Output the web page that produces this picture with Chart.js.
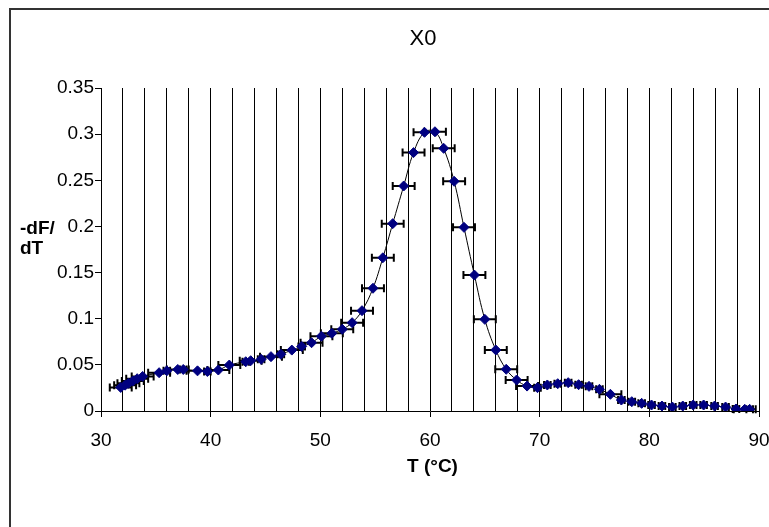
<!DOCTYPE html>
<html>
<head>
<meta charset="utf-8">
<script src="https://cdn.jsdelivr.net/npm/chart.js@4/dist/chart.umd.min.js"></script>
<style>
    html, body { margin: 0; background: #fff; overflow: hidden; width: 769px; height: 527px; }
    #frame { position: absolute; left: 9px; top: 8px; width: 3000px; height: 3000px; border-top: 2px solid #333; border-left: 2px solid #333; box-sizing: border-box; }
    #holder { position: absolute; left: 9px; top: 8px; width: 828px; height: 560px; }
</style>
</head>
<body>
<div id="frame"></div>
<div id="holder"><canvas id="meltCanvas"></canvas></div>
<script>
// melt curve, temperature in °C
const temps = [31.8, 32.2, 32.5, 32.9, 33.3, 33.8, 35.3, 36.0, 37.0, 37.5, 38.8, 39.7, 40.7, 41.7,
    43.2, 43.65, 44.6, 45.5, 46.4, 47.4, 48.3, 49.2, 50.1, 51.05, 52.0, 52.9, 53.8, 54.8, 55.7,
    56.6, 57.6, 58.5, 59.5, 60.45, 61.25, 62.2, 63.1, 64.05, 65.0, 66.0, 66.95, 67.9, 68.85, 69.8,
    70.7, 71.65, 72.6, 73.55, 74.5, 75.45, 76.45, 77.45, 78.4, 79.3, 80.2, 81.15, 82.1, 83.05,
    84.0, 84.95, 85.95, 86.95, 87.9, 88.7, 89.15];
const dfdt = [0.0255, 0.028, 0.030, 0.0325, 0.035, 0.0375, 0.0415, 0.0435, 0.045, 0.045, 0.0435,
    0.0428, 0.0444, 0.0498, 0.0534, 0.0545, 0.056, 0.0589, 0.0615, 0.066, 0.070, 0.074, 0.081,
    0.0842, 0.0885, 0.0957, 0.1087, 0.133, 0.166, 0.203, 0.2438, 0.280, 0.302, 0.3026, 0.2846,
    0.2489, 0.199, 0.1473, 0.0993, 0.0661, 0.0452, 0.0336, 0.027, 0.0253, 0.0282, 0.0296, 0.0307,
    0.0285, 0.0267, 0.0235, 0.0181, 0.0119, 0.0101, 0.0083, 0.0065, 0.0054, 0.0043, 0.0054,
    0.0065, 0.0065, 0.0054, 0.0043, 0.0022, 0.0018, 0.0018];
// horizontal error (± °C)
const tErr = [1, 1, 1, 1, 1, 1, 1, 0.3, 1, 0.3, 1, 0.3, 1, 1,
    0.3, 1, 0.3, 1, 0.3, 1, 0.3, 1, 1, 1, 1, 1, 1, 1, 1,
    1, 1, 1, 1, 1, 1, 1, 1, 1, 1, 1, 1, 1, 1, 0.3,
    0.3, 0.3, 0.3, 0.3, 0.3, 0.3, 1, 0.3, 0.3, 0.3, 0.3, 0.3, 0.3, 0.3,
    0.3, 0.3, 0.3, 0.3, 0.3, 1, 0.3];
const xTicks = [30, 40, 50, 60, 70, 80, 90];
const yTicks = [0, 0.05, 0.1, 0.15, 0.2, 0.25, 0.3, 0.35];

const fontFamily = '"Liberation Sans", Arial, sans-serif';
const canvas = document.getElementById('meltCanvas');

const points = temps.map((t, i) => ({x: t, y: dfdt[i]}));

const errorBars = {
    id: 'errorBars',
    beforeDatasetsDraw(chart) {
        const {ctx, scales: {x, y}} = chart;
        ctx.save();
        ctx.strokeStyle = '#000';
        ctx.lineWidth = 2;
        points.forEach((p, i) => {
            const py = y.getPixelForValue(p.y);
            const x0 = x.getPixelForValue(p.x - tErr[i]);
            const x1 = x.getPixelForValue(p.x + tErr[i]);
            ctx.beginPath();
            ctx.moveTo(x0, py);
            ctx.lineTo(x1, py);
            ctx.moveTo(x0, py - 4);
            ctx.lineTo(x0, py + 4);
            ctx.moveTo(x1, py - 4);
            ctx.lineTo(x1, py + 4);
            ctx.stroke();
        });
        ctx.restore();
    }
};

const labelsPlugin = {
    id: 'labelsPlugin',
    afterDraw(chart) {
        const ctx = chart.ctx;
        ctx.save();
        ctx.fillStyle = '#000';
        ctx.textBaseline = 'middle';
        ctx.textAlign = 'center';
        ctx.font = '22px ' + fontFamily;
        ctx.fillText('X0', 414, 31);
        ctx.font = 'bold 19px ' + fontFamily;
        ctx.fillText('T (°C)', 423.5, 459);
        ctx.textAlign = 'left';
        ctx.fillText('-dF/', 11, 221);
        ctx.fillText('dT', 11, 241);
        ctx.restore();
    }
};

const chartDraw = () => {
    const data = {
        datasets: [
            {
                data: points,
                borderColor: '#000',
                borderWidth: 1,
                tension: 0.4,
                pointStyle: 'rectRot',
                pointRadius: 5,
                pointBackgroundColor: '#000080',
                pointBorderColor: '#000080',
                pointBorderWidth: 1
            }
        ]
    };

    const config = {
        type: 'scatter',
        data,
        options: {
            responsive: true,
            maintainAspectRatio: false,
            animation: false,
            devicePixelRatio: 1,
            showLine: true,
            layout: { padding: { top: 80, right: 78, bottom: 97, left: 0 } },
            plugins: {
                legend: { display: false },
                tooltip: { enabled: false }
            },
            scales: {
                x: {
                    type: 'linear',
                    min: 30,
                    max: 90,
                    afterFit: (scale) => { scale.height = 60; },
                    ticks: {
                        stepSize: 2,
                        autoSkip: false,
                        maxRotation: 0,
                        padding: 12,
                        color: '#000',
                        font: { family: fontFamily, size: 19 },
                        callback: (v) => xTicks.includes(v) ? String(v) : ''
                    },
                    grid: {
                        color: '#000',
                        lineWidth: 1,
                        tickLength: 6,
                        tickColor: (c) => xTicks.includes(c.tick && c.tick.value) ? '#000' : 'rgba(0,0,0,0)'
                    },
                    border: { color: '#000', width: 1 }
                },
                y: {
                    min: 0,
                    max: 0.35,
                    afterFit: (scale) => { scale.width = 92; },
                    afterBuildTicks: (scale) => { scale.ticks = yTicks.map((v) => ({value: v})); },
                    ticks: {
                        padding: 1,
                        color: '#000',
                        font: { family: fontFamily, size: 19 },
                        callback: (v) => String(+v.toFixed(2))
                    },
                    grid: {
                        drawOnChartArea: false,
                        tickLength: 6,
                        tickColor: '#000'
                    },
                    border: { color: '#000', width: 1 }
                }
            }
        },
        plugins: [errorBars, labelsPlugin]
    };

    new Chart(canvas, config);
};

chartDraw();
</script>
</body>
</html>
